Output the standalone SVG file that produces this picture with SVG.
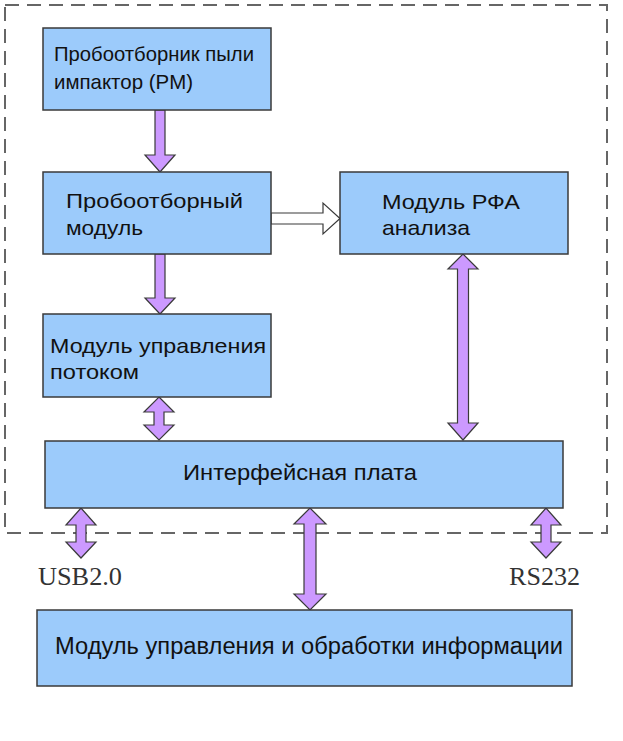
<svg xmlns="http://www.w3.org/2000/svg" width="623" height="741" viewBox="0 0 623 741">
<style>
.box{fill:#9CCBFB;stroke:#3a3a3a;stroke-width:1.5}
.arr{fill:#CC99FF;stroke:#3a3a3a;stroke-width:1.2;stroke-linejoin:miter}
.hollow{fill:#ffffff;stroke:#3a3a3a;stroke-width:1.2}
.t{font-family:"Liberation Sans",Arial,sans-serif;font-size:21px;fill:#111}
.lbl{font-family:"Liberation Serif","Times New Roman",serif;font-size:25px;fill:#333}
.frame{fill:none;stroke:#666;stroke-width:2;stroke-dasharray:14 8}
</style>
<rect width="623" height="741" fill="#ffffff"/>
<rect id="frame" class="frame" x="5" y="5" width="602" height="528"/>
<g id="connectors">
<polygon class="arr" points="155,110 165,110 165,155 175,155 160,172 145,155 155,155"/>
<polygon class="arr" points="155,254 165,254 165,298 175,298 160,314 145,298 155,298"/>
<polygon class="arr" points="159,397 174,412 164,412 164,425 174,425 159,440 144,425 154,425 154,412 144,412"/>
<polygon class="arr" points="463,254 478,269 468.5,269 468.5,423 478,423 463,440 448,423 457.5,423 457.5,269 448,269"/>
<polygon class="arr" points="81,508 96,525 86,525 86,542 96,542 81,558 66,542 76,542 76,525 66,525"/>
<polygon class="arr" points="310,508 326,524 316,524 316,594 326,594 310,610 294,594 304,594 304,524 294,524"/>
<polygon class="arr" points="546,508 561,525 551,525 551,542 561,542 546,558 531,542 541,542 541,525 531,525"/>
<polygon class="hollow" points="271,213 323,213 323,203 340,218.5 323,234 323,224 271,224"/>
</g>
<g id="n1"><rect class="box" x="43" y="28" width="228" height="82"/>
<text class="t" x="54" y="61" textLength="200" lengthAdjust="spacingAndGlyphs">Пробоотборник пыли</text>
<text class="t" x="54" y="88.5" textLength="139" lengthAdjust="spacingAndGlyphs">импактор (PM)</text></g>
<g id="n2"><rect class="box" x="43" y="172" width="228" height="82"/>
<text class="t" x="66" y="208" textLength="177" lengthAdjust="spacingAndGlyphs">Пробоотборный</text>
<text class="t" x="66" y="235" textLength="77" lengthAdjust="spacingAndGlyphs">модуль</text></g>
<g id="n3"><rect class="box" x="43" y="314" width="228" height="83"/>
<text class="t" x="50" y="352.5" textLength="216" lengthAdjust="spacingAndGlyphs">Модуль управления</text>
<text class="t" x="50" y="379" textLength="89" lengthAdjust="spacingAndGlyphs">потоком</text></g>
<g id="n4"><rect class="box" x="340" y="172" width="228" height="82"/>
<text class="t" x="382" y="208.5" textLength="138" lengthAdjust="spacingAndGlyphs">Модуль РФА</text>
<text class="t" x="382" y="235" textLength="88" lengthAdjust="spacingAndGlyphs">анализа</text></g>
<g id="n5"><rect class="box" x="45" y="441" width="518" height="67"/>
<text class="t" x="183" y="480" style="font-size:22px" textLength="234" lengthAdjust="spacingAndGlyphs">Интерфейсная плата</text></g>
<g id="n6"><rect class="box" x="37" y="610" width="535" height="76"/>
<text class="t" x="55" y="654" style="font-size:23px" textLength="508" lengthAdjust="spacingAndGlyphs">Модуль управления и обработки информации</text></g>
<text class="lbl" x="38" y="585" textLength="84" lengthAdjust="spacingAndGlyphs">USB2.0</text>
<text class="lbl" x="509" y="585" textLength="71" lengthAdjust="spacingAndGlyphs">RS232</text>
</svg>
